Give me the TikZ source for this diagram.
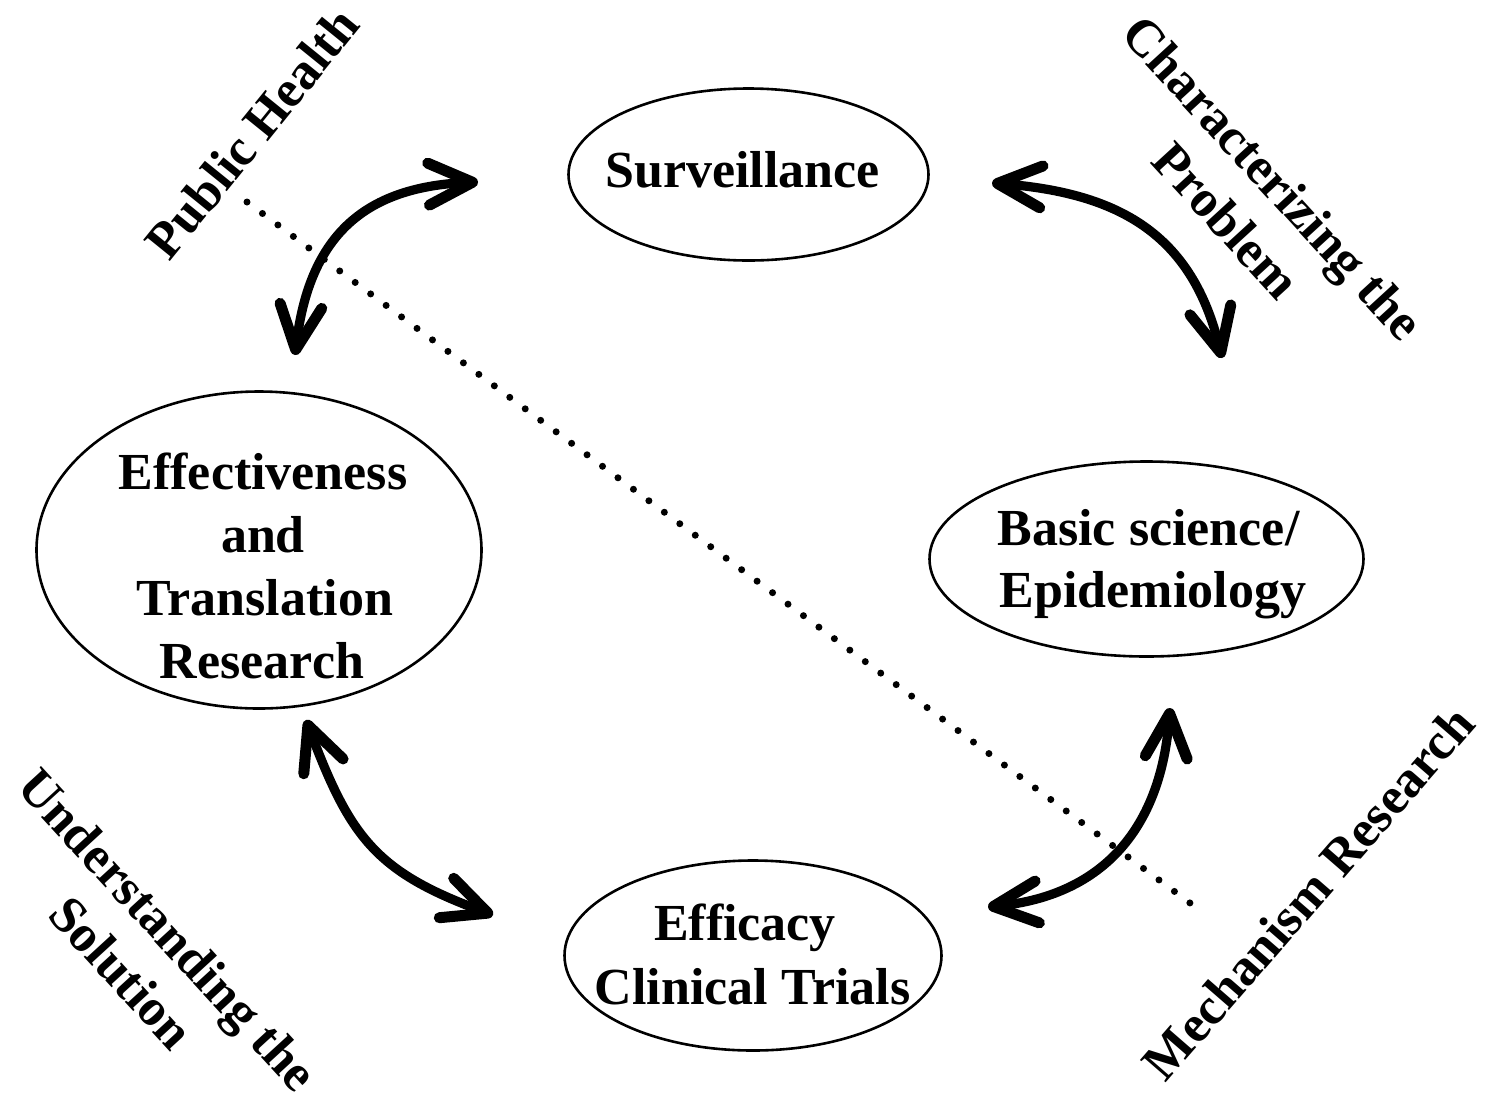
\documentclass[tikz,border=0pt]{standalone}
\usepackage{fontspec}
\setmainfont{Liberation Serif}
\usetikzlibrary{shapes.geometric,arrows.meta}
\begin{document}
\begin{tikzpicture}[x=0.5pt,y=-0.5pt,
  bub/.style={ellipse, draw, line width=1.3pt, inner sep=0pt},
  lbl/.style={font=\bfseries\fontsize{26}{31.5}\selectfont, inner sep=0pt, anchor=base},
  side/.style={font=\bfseries\fontsize{26}{31.5}\selectfont, inner sep=0pt, align=center},
  barb/.tip={Straight Barb[length=22pt,width=21pt,line width=5.5pt,round]},
  dbl/.style={line width=4.6pt, barb-barb},
  dots/.style={line width=3.5pt, line cap=round, dash pattern=on 0pt off 9.63pt}
]
\useasboundingbox (0,0) rectangle (1505,1099);
% ellipses
\node[bub, minimum width=180pt, minimum height=86pt] (surv) at (748.5,174.5) {};
\node[bub, minimum width=222.5pt, minimum height=158.5pt] (eff) at (259,550) {};
\node[bub, minimum width=217pt, minimum height=97.5pt] (basic) at (1146.5,559) {};
\node[bub, minimum width=188.5pt, minimum height=95pt] (effic) at (753,955.5) {};
% texts
\node[lbl] (survt) at (742.5,187) {Surveillance};
\node[lbl] (efft1) at (263,489) {Effectiveness};
\node[lbl] (efft2) at (263,552) {and};
\node[lbl] (efft3) at (265,615) {Translation};
\node[lbl] (efft4) at (262,678) {Research};
\node[lbl] (bast1) at (1148.5,545) {Basic science/};
\node[lbl] (bast2) at (1153,607) {Epidemiology};
\node[lbl] (efct1) at (745,940) {Efficacy};
\node[lbl] (efct2) at (752.5,1004) {Clinical Trials};
% side labels
\node[side, rotate=51] (ph) at (252,133) {Public Health};
\node[side, rotate=-47.5] (cp) at (1250,199) {Characterizing the\\Problem};
\node[side, rotate=-47.5] (us) at (145,951) {Understanding the\\Solution};
\node[side, rotate=49] (mr) at (1308,893) {Mechanism Research};
% dotted line
\coordinate (d1) at (247,202);
\coordinate (d2) at (1190,903);
\draw[dots] (d1) -- (d2);
% arrows
\coordinate (a1) at (295,355); \coordinate (a2) at (478,182);
\coordinate (b1) at (992,183); \coordinate (b2) at (1222,358);
\coordinate (c1) at (306,720); \coordinate (c2) at (493,915);
\coordinate (e1) at (1170,708); \coordinate (e2) at (988,907);
\draw[dbl] (a1) .. controls (309,239) and (361,187) .. (a2);
\draw[dbl] (b1) .. controls (1119,193) and (1192,234) .. (b2);
\draw[dbl] (c1) .. controls (350,837) and (375.5,872) .. (c2);
\draw[dbl] (e1) .. controls (1161,826) and (1105,895) .. (e2);
\end{tikzpicture}
\end{document}
